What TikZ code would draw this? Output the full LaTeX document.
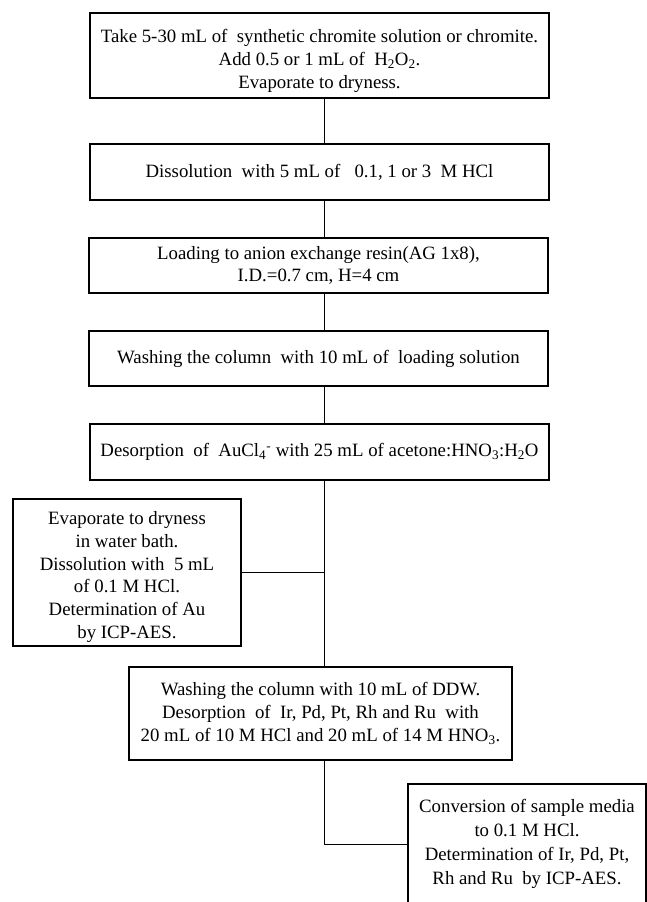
\documentclass[tikz,border=0pt]{standalone}
\usepackage{fontspec}
\setmainfont{Liberation Serif}
\usetikzlibrary{calc,positioning}
\tikzset{
    procbox/.style={
        rectangle,
        draw=black, line width=1.1pt,
        minimum width=459pt,
        inner sep=2pt,
        align=center,
        font=\fontsize{18.8}{22.8}\selectfont
    },
    line/.style={draw, line width=0.9pt}
}

\begin{document}
\begin{tikzpicture}[x=1pt,y=-1pt]
    \useasboundingbox (0,0) rectangle (647,902);
    \coordinate (spine) at (324,0);
    \node[procbox, minimum height=85pt] (take) at (319.5,55.5) {\rule{0pt}{24pt}Take 5-30 mL of\ \ synthetic chromite solution or chromite.\\ Add 0.5 or 1 mL of\ \ H\textsubscript{2}O\textsubscript{2}.\\ Evaporate to dryness.};
    \node[procbox, minimum height=56pt] (diss) at (319.5,172) {Dissolution\ \ with 5 mL of\ \ \ 0.1, 1 or 3\ \ M HCl};
    \node[procbox, minimum height=55pt] (load) at (318.5,265.5) {Loading to anion exchange resin(AG 1x8),\\ I.D.=0.7 cm, H=4 cm};
    \node[procbox, minimum height=55pt] (wash) at (318.5,358.5) {Washing the column\ \ with 10 mL of\ \ loading solution};
    \node[procbox, minimum height=56pt] (desorb) at (319.5,452) {Desorption\ \ of\ \ AuCl\textsubscript{4}\textsuperscript{-} with 25 mL of acetone:HNO\textsubscript{3}:H\textsubscript{2}O};
    \node[procbox, minimum width=228pt, minimum height=147pt] (gold) at (127,572.5) {\rule{0pt}{22pt}Evaporate to dryness\\ in water bath.\\ Dissolution with\ \ 5 mL\\ of 0.1 M HCl.\\ Determination of Au\\ by ICP-AES.};
    \node[procbox, minimum width=383pt, minimum height=93pt] (rinse) at (320.5,713.5) {Washing the column with 10 mL of DDW.\\ Desorption\ \ of\ \ Ir, Pd, Pt, Rh and Ru\ \ with\\ 20 mL of 10 M HCl and 20 mL of 14 M HNO\textsubscript{3}.};
    \node[procbox, minimum width=238pt, minimum height=120pt, font=\fontsize{18.8}{24}\selectfont] (conv) at (527,844) {Conversion of sample media\\ to 0.1 M HCl.\\ Determination of Ir, Pd, Pt,\\ Rh and Ru\ \ by ICP-AES.};
    \draw[line] (take.south -| spine) -- (diss.north -| spine);
    \draw[line] (diss.south -| spine) -- (load.north -| spine);
    \draw[line] (load.south -| spine) -- (wash.north -| spine);
    \draw[line] (wash.south -| spine) -- (desorb.north -| spine);
    \draw[line] (desorb.south -| spine) -- (rinse.north -| spine);
    \draw[line] (gold.east) -- (gold.east -| spine);
    \draw[line] (rinse.south -| spine) |- (conv.west);
\end{tikzpicture}
\end{document}
